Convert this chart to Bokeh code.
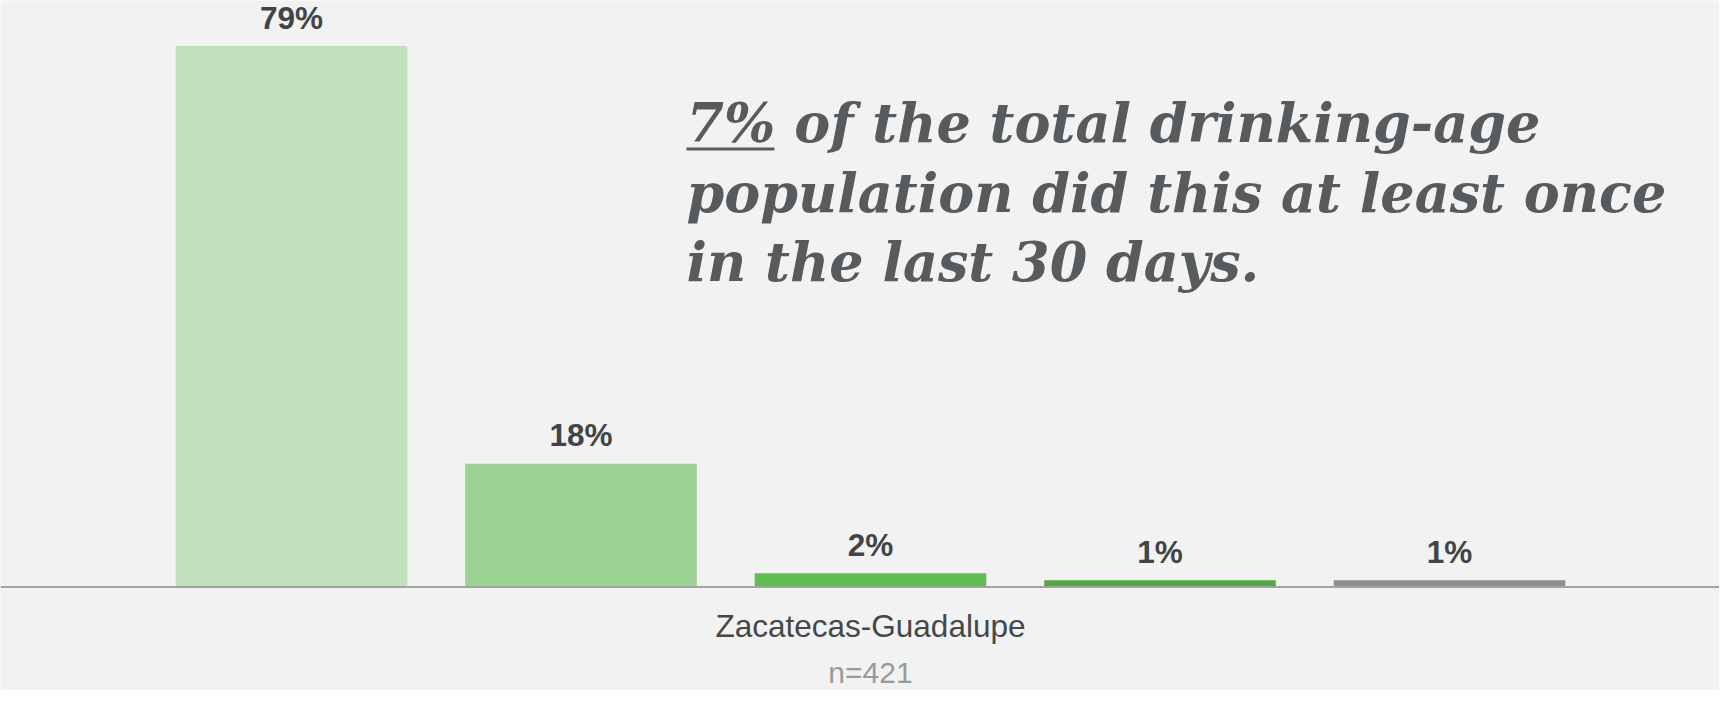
from bokeh.plotting import figure
from bokeh.models import ColumnDataSource, LabelSet, Span, BoxAnnotation, Range1d
from bokeh.core.properties import value
from bokeh.embed import file_html
from bokeh.resources import INLINE

# ---- data ----
group_label = "Zacatecas-Guadalupe"
sample_label = "n=421"
positions = [1, 2, 3, 4, 5]
values = [79, 18, 2, 1, 1]
value_labels = ["79%", "18%", "2%", "1%", "1%"]
bar_colors = ["#c1e1bc", "#9cd294", "#5fbf50", "#52a845", "#8a918f"]
headline_lines = [
    "7% of the total drinking-age",
    "population did this at least once",
    "in the last 30 days.",
]

# ---- layout helpers (pixel layout of the figure) ----
W, H = 1719, 690
PX_PER_UNIT = 289.5
X0 = -1.5 / PX_PER_UNIT
X1 = X0 + W / PX_PER_UNIT
PX_PER_PCT = 6.848
BASE_PX = 586.5
Y1 = BASE_PX / PX_PER_PCT
Y0 = -(H - BASE_PX) / PX_PER_PCT


def px2x(px):
    return X0 + px / PX_PER_UNIT


def px2y(py):
    return (BASE_PX - py) / PX_PER_PCT


BG = "#f2f2f2"
TITLE_COLOR = "#575b5e"

p = figure(width=W, height=H, x_range=Range1d(X0, X1), y_range=Range1d(Y0, Y1),
           output_backend="svg", toolbar_location=None, min_border=0,
           background_fill_color=BG, border_fill_color=BG, outline_line_color=None)
p.xaxis.visible = False
p.yaxis.visible = False
p.grid.visible = False

src = ColumnDataSource(dict(x=positions, top=values, label=value_labels, color=bar_colors))
p.vbar(x="x", top="top", bottom=0, width=0.8, fill_color="color", line_color=None, source=src)

p.add_layout(Span(location=0, dimension="width", line_color="#a3a3a3", line_width=2))

p.add_layout(LabelSet(x="x", y="top", text="label", source=src, y_offset=17.5,
                      text_align="center", text_baseline="alphabetic",
                      text_font=value("Liberation Sans"), text_font_style="bold",
                      text_font_size="31.5px", text_color="#404545"))

gx = sum(positions) / len(positions)
cat_src = ColumnDataSource(dict(x=[gx], y=[px2y(636)], text=[group_label]))
p.add_layout(LabelSet(x="x", y="y", text="text", source=cat_src, text_align="center",
                      text_baseline="alphabetic", text_font=value("Liberation Sans"),
                      text_font_size="31.5px", text_color="#444849"))
n_src = ColumnDataSource(dict(x=[gx], y=[px2y(682)], text=[sample_label]))
p.add_layout(LabelSet(x="x", y="y", text="text", source=n_src, text_align="center",
                      text_baseline="alphabetic", text_font=value("Liberation Sans"),
                      text_font_size="30px", text_color="#959c9b"))

baselines = [141, 211.7, 280]
title_src = ColumnDataSource(dict(x=[px2x(686)] * len(headline_lines),
                                  y=[px2y(b) for b in baselines],
                                  text=headline_lines))
p.add_layout(LabelSet(x="x", y="y", text="text", source=title_src, text_align="left",
                      text_baseline="alphabetic", text_font=value("DejaVu Serif"),
                      text_font_style="bold italic", text_font_size="54px",
                      text_color=TITLE_COLOR))

p.add_layout(BoxAnnotation(left=px2x(686), right=px2x(774), top=px2y(147), bottom=px2y(150),
                           fill_color=TITLE_COLOR, fill_alpha=1, line_color=None))

open("out.html", "w").write(file_html(p, INLINE))
